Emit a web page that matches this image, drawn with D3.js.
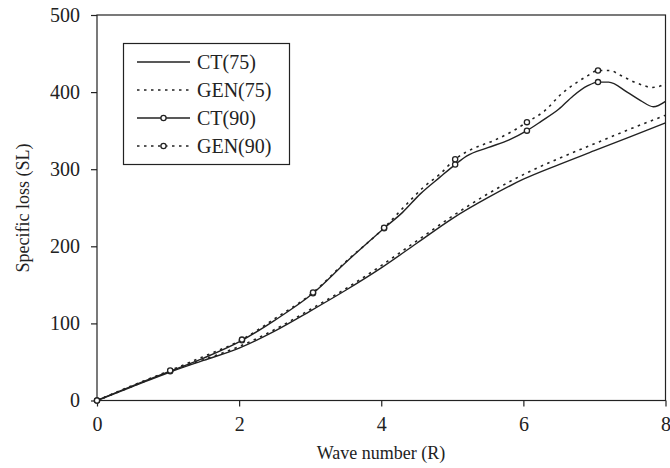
<!DOCTYPE html>
<html>
<head>
<meta charset="utf-8">
<script src="https://cdn.jsdelivr.net/npm/d3@7"></script>
<style>
  html, body { margin: 0; padding: 0; background: #fff; }
  svg text { font-family: "Liberation Serif", "Times New Roman", serif; fill: #222; }
</style>
</head>
<body>
<svg id="chart" width="670" height="468"></svg>
<script>
// ---- data ----
const xTicks = [0, 2, 4, 6, 8];
const yTicks = [0, 100, 200, 300, 400, 500];
const seriesNames = ["CT(75)", "GEN(75)", "CT(90)", "GEN(90)"];

const ct75R  = [0, 0.5, 1, 1.5, 2, 2.5, 3, 3.5, 4, 4.5, 5, 5.5, 6, 6.5, 7, 7.5, 8];
const ct75SL = [0, 18, 36, 52, 68, 90, 116, 143, 172, 204, 236, 263, 287, 306, 324, 342, 360];

const gen75R  = [0, 0.5, 1, 1.5, 2, 2.5, 3, 3.5, 4, 4.5, 5, 5.5, 6, 6.5, 7, 7.5, 8];
const gen75SL = [0, 18.5, 37, 53, 70, 92, 118, 145, 175, 207, 239, 268, 293, 314, 333, 352, 370];

const ct90R  = [0, 0.5, 1.03, 1.5, 2.04, 2.5, 3.04, 3.5, 4.04, 4.3, 4.55, 4.83, 5.04, 5.2, 5.5, 5.8, 6.05, 6.25, 6.5, 6.7, 6.9, 7.05, 7.2, 7.46, 7.65, 7.83, 8];
const ct90SL = [0, 19, 38, 55, 78, 104, 139, 179, 223.5, 244, 268, 290, 306, 317, 328, 338, 350, 362, 378, 395, 408, 413, 413, 400, 389, 381, 388];
const ct90Markers = [0, 1.03, 2.04, 3.04, 4.04, 5.04, 6.05, 7.05];

const gen90R  = [0, 0.5, 1.03, 1.5, 2.04, 2.5, 3.04, 3.5, 4.04, 4.34, 4.6, 4.83, 5.04, 5.3, 5.58, 5.86, 6.05, 6.29, 6.54, 6.76, 6.9, 7.05, 7.23, 7.34, 7.45, 7.56, 7.68, 7.8, 7.9, 8];
const gen90SL = [0, 19.5, 39, 57, 79, 106, 140, 180, 224, 253, 277, 294, 313, 327, 337, 350, 361, 375, 398, 413, 421, 428, 428, 423, 418, 413, 409, 406, 407, 412];
const gen90Markers = [0, 1.03, 2.04, 3.04, 4.04, 5.04, 6.05, 7.05];

// ---- layout ----
const svg = d3.select("#chart");
const mLeft = 97, mRight = 665.5, mTop = 15, mBottom = 400.5;

const x = d3.scaleLinear().domain([0, 8]).range([mLeft, mRight]);
const y = d3.scaleLinear().domain([0, 500]).range([mBottom, mTop]);

const ink = "#222";

// frame
svg.append("rect")
  .attr("x", mLeft).attr("y", mTop)
  .attr("width", mRight - mLeft).attr("height", mBottom - mTop)
  .attr("fill", "none").attr("stroke", ink).attr("stroke-width", 1.2);

// axes
const xAxis = svg.append("g").attr("transform", `translate(0,${mBottom})`)
  .call(d3.axisBottom(x).tickValues(xTicks).tickSize(6).tickPadding(10).tickFormat(d3.format("d")));
const yAxis = svg.append("g").attr("transform", `translate(${mLeft},0)`)
  .call(d3.axisLeft(y).tickValues(yTicks).tickSize(6).tickPadding(11).tickFormat(d3.format("d")));
[xAxis, yAxis].forEach(g => {
  g.select(".domain").remove();
  g.selectAll("line").attr("stroke", ink).attr("stroke-width", 1.2);
  g.selectAll("text").attr("font-size", 20).attr("fill", ink)
    .style("font-family", "'Liberation Serif', serif");
});

// axis titles
svg.append("text").attr("x", 381).attr("y", 459)
  .attr("text-anchor", "middle").attr("font-size", 18).text("Wave number (R)");
svg.append("text")
  .attr("transform", `translate(29,${208}) rotate(-90)`)
  .attr("text-anchor", "middle").attr("font-size", 18).text("Specific loss (SL)");

// lines
const line = d3.line().x(d => x(d[0])).y(d => y(d[1])).curve(d3.curveMonotoneX);
const zip = (a, b) => a.map((v, i) => [v, b[i]]);
const interp = (rs, vs, r) => {
  for (let i = 1; i < rs.length; i++) {
    if (r <= rs[i]) { const t = (r - rs[i-1]) / (rs[i] - rs[i-1]); return vs[i-1] + t * (vs[i] - vs[i-1]); }
  }
  return vs[vs.length - 1];
};

const plot = svg.append("g");
const dash = "2.5,4.5";
const series = [
  { name: seriesNames[0], pts: zip(ct75R, ct75SL), dash: null, markers: [] },
  { name: seriesNames[1], pts: zip(gen75R, gen75SL), dash: dash, markers: [] },
  { name: seriesNames[2], pts: zip(ct90R, ct90SL), dash: null, markers: ct90Markers.map(r => [r, interp(ct90R, ct90SL, r)]) },
  { name: seriesNames[3], pts: zip(gen90R, gen90SL), dash: dash, markers: gen90Markers.map(r => [r, interp(gen90R, gen90SL, r)]) }
];

series.forEach(s => {
  plot.append("path").attr("d", line(s.pts))
    .attr("fill", "none").attr("stroke", ink)
    .attr("stroke-width", s.dash ? 1.6 : 1.4)
    .attr("stroke-dasharray", s.dash);
});
series.forEach(s => {
  plot.selectAll(null).data(s.markers).enter().append("circle")
    .attr("cx", d => x(d[0])).attr("cy", d => y(d[1])).attr("r", 2.6)
    .attr("fill", "#fff").attr("stroke", ink).attr("stroke-width", 1.3);
});

// legend
const lg = svg.append("g");
lg.append("rect").attr("x", 123.5).attr("y", 43.5).attr("width", 166).attr("height", 121)
  .attr("fill", "#fff").attr("stroke", ink).attr("stroke-width", 1.2);
series.forEach((s, i) => {
  const yy = 62 + i * 28;
  lg.append("line").attr("x1", 137).attr("x2", 190).attr("y1", yy).attr("y2", yy)
    .attr("stroke", ink).attr("stroke-width", s.dash ? 1.6 : 1.4)
    .attr("stroke-dasharray", s.dash);
  if (s.markers.length) {
    lg.append("circle").attr("cx", 163.5).attr("cy", yy).attr("r", 2.6)
      .attr("fill", "#fff").attr("stroke", ink).attr("stroke-width", 1.3);
  }
  lg.append("text").attr("x", 197).attr("y", yy).attr("dy", "0.35em")
    .attr("font-size", 20).text(s.name);
});
</script>
</body>
</html>
